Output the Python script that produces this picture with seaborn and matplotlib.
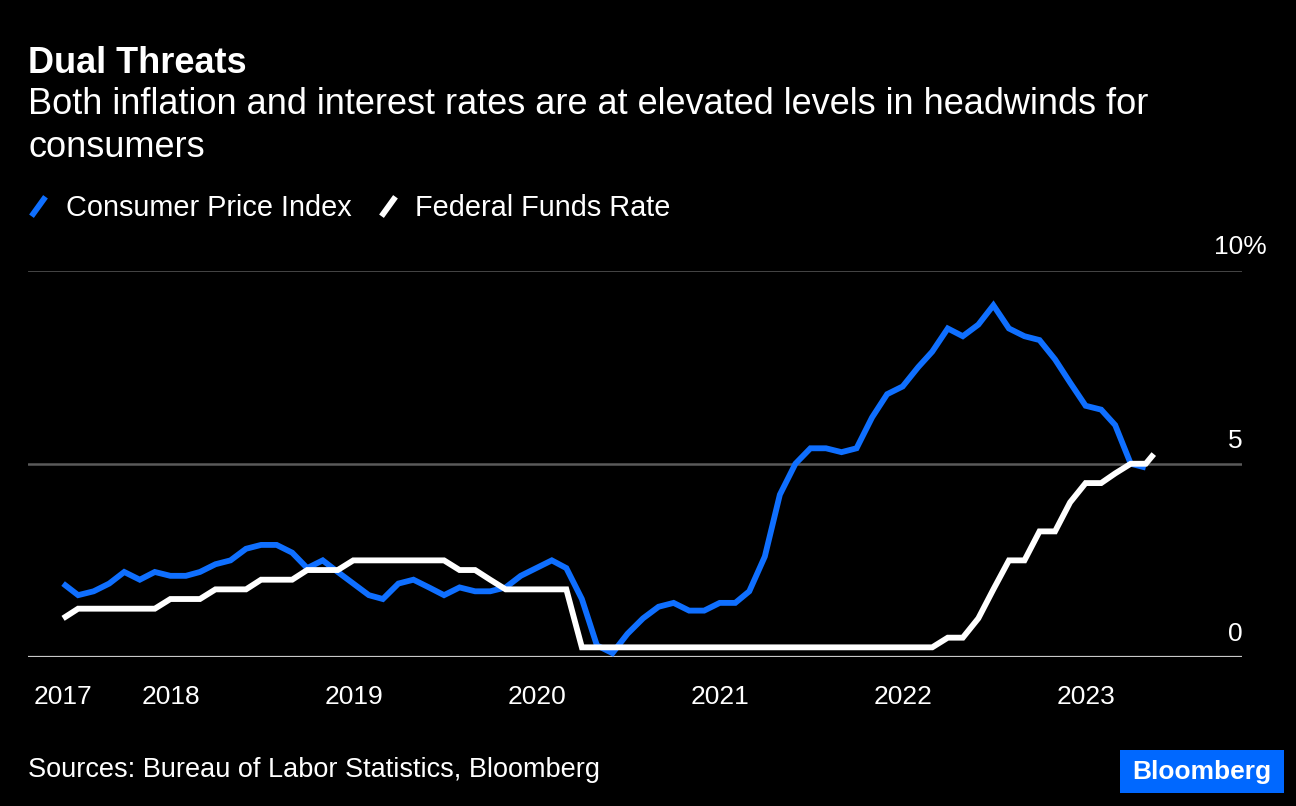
import numpy as np
import pandas as pd
import matplotlib
matplotlib.use("Agg")
import matplotlib.pyplot as plt
import matplotlib.transforms as mtransforms
from matplotlib.lines import Line2D
from matplotlib.path import Path
from matplotlib.patches import Rectangle
import seaborn as sns

# ---------------- data ----------------
series_names = ["Consumer Price Index", "Federal Funds Rate"]
series_colors = ["#0f6fff", "#ffffff"]

cpi_start = "2017-05-31"
cpi_values = [
    1.9, 1.6, 1.7, 1.9, 2.2, 2.0, 2.2, 2.1,                      # 2017 May-Dec
    2.1, 2.2, 2.4, 2.5, 2.8, 2.9, 2.9, 2.7, 2.3, 2.5, 2.2, 1.9,  # 2018
    1.6, 1.5, 1.9, 2.0, 1.8, 1.6, 1.8, 1.7, 1.7, 1.8, 2.1, 2.3,  # 2019
    2.5, 2.3, 1.5, 0.3, 0.1, 0.6, 1.0, 1.3, 1.4, 1.2, 1.2, 1.4,  # 2020
    1.4, 1.7, 2.6, 4.2, 5.0, 5.4, 5.4, 5.3, 5.4, 6.2, 6.8, 7.0,  # 2021
    7.5, 7.9, 8.5, 8.3, 8.6, 9.1, 8.5, 8.3, 8.2, 7.7, 7.1, 6.5,  # 2022
    6.4, 6.0, 5.0, 4.9,                                          # 2023 Jan-Apr
]

ffr_start = "2017-05-31"
ffr_values = [
    1.00, 1.25, 1.25, 1.25, 1.25, 1.25, 1.25, 1.50,                          # 2017 May-Dec
    1.50, 1.50, 1.75, 1.75, 1.75, 2.00, 2.00, 2.00, 2.25, 2.25, 2.25, 2.50,  # 2018
    2.50, 2.50, 2.50, 2.50, 2.50, 2.50, 2.25, 2.25, 2.00, 1.75, 1.75, 1.75,  # 2019
    1.75, 1.75, 0.25, 0.25, 0.25, 0.25, 0.25, 0.25, 0.25, 0.25, 0.25, 0.25,  # 2020
    0.25, 0.25, 0.25, 0.25, 0.25, 0.25, 0.25, 0.25, 0.25, 0.25, 0.25, 0.25,  # 2021
    0.25, 0.25, 0.50, 0.50, 1.00, 1.75, 2.50, 2.50, 3.25, 3.25, 4.00, 4.50,  # 2022
    4.50, 4.75, 5.00, 5.00,                                                  # 2023 Jan-Apr
]
ffr_last_date = "2023-05-16"
ffr_last_value = 5.25

x_tick_dates = ["2017-05-31", "2018-01-01", "2019-01-01", "2020-01-01",
                "2021-01-01", "2022-01-01", "2023-01-01"]
x_tick_labels = ["2017", "2018", "2019", "2020", "2021", "2022", "2023"]
y_ticks = [0, 5, 10]
y_tick_labels = ["0", "5", "10%"]

title = "Dual Threats"
subtitle_lines = ["Both inflation and interest rates are at elevated levels in headwinds for",
                  "consumers"]
source = "Sources: Bureau of Labor Statistics, Bloomberg"

# ---------------- frame ----------------
cpi_dates = pd.date_range(cpi_start, periods=len(cpi_values), freq="ME")
ffr_dates = list(pd.date_range(ffr_start, periods=len(ffr_values), freq="ME")) + [pd.Timestamp(ffr_last_date)]
df = pd.concat([
    pd.DataFrame({"date": cpi_dates, "value": cpi_values, "series": series_names[0]}),
    pd.DataFrame({"date": ffr_dates, "value": ffr_values + [ffr_last_value], "series": series_names[1]}),
], ignore_index=True)

# ---------------- style ----------------
sns.set_theme(style="dark", rc={
    "figure.facecolor": "black",
    "axes.facecolor": "black",
    "savefig.facecolor": "black",
    "text.color": "white",
    "axes.labelcolor": "white",
    "xtick.color": "white",
    "ytick.color": "white",
})
plt.rcParams["font.family"] = ["Liberation Sans", "DejaVu Sans"]

W, H = 1296, 806
fig = plt.figure(figsize=(W / 100, H / 100), dpi=100)
ax = fig.add_axes([28 / W, 1 - 657 / H, (1242 - 28) / W, (657 - 270.5) / H])

palette = dict(zip(series_names, series_colors))
sns.lineplot(data=df, x="date", y="value", hue="series", palette=palette,
             linewidth=4.2, legend=False, ax=ax, zorder=3)
for ln in ax.lines:
    ln.set_clip_on(False)
    ln.set_solid_joinstyle("miter")
    ln.set_solid_capstyle("butt")

ax.set_xlim(pd.Timestamp("2017-03-22"), pd.Timestamp("2023-11-08"))
ax.set_ylim(0, 10)
for s in ax.spines.values():
    s.set_visible(False)

# gridlines
for yv in y_ticks:
    if yv == 0:
        ax.axhline(yv, color="#c8c8c8", lw=1.6, zorder=2)
    else:
        ax.axhline(yv, color="#5a5a5a", lw=1.8, zorder=1)
ax.grid(False)

# x ticks
ax.set_xticks(pd.to_datetime(x_tick_dates))
ax.set_xticklabels(x_tick_labels, fontsize=19, color="white")
ax.tick_params(axis="x", length=8, width=1.5, color="#c8c8c8", pad=12, direction="out")
ax.set_xlabel("")
ax.set_ylabel("")
ax.set_yticks([])

# y labels (right side, above gridlines)
for yv, lab in zip(y_ticks, y_tick_labels):
    xoff = 25 if lab.endswith("%") else 1
    tr = mtransforms.offset_copy(ax.get_yaxis_transform(), fig=fig, x=xoff, y=11, units="dots")
    ax.text(1.0, yv, lab, transform=tr, ha="right", va="bottom", fontsize=19, color="white")

# ---------------- texts ----------------
fig.text(28 / W, 1 - 73 / H, title, fontsize=26, fontweight="bold", color="white", va="baseline", ha="left")
fig.text(28 / W, 1 - 114 / H, subtitle_lines[0], fontsize=26, color="white", va="baseline", ha="left")
fig.text(28 / W, 1 - 157 / H, subtitle_lines[1], fontsize=26, color="white", va="baseline", ha="left")
fig.text(28 / W, 1 - 777 / H, source, fontsize=19.5, color="white", va="baseline", ha="left")

# legend
slash = Path([(-0.36, -0.5), (0.36, 0.5)], [Path.MOVETO, Path.LINETO])
handles = [Line2D([], [], color=c, marker=slash, linestyle="None", markersize=14,
                  markeredgewidth=4.2, markeredgecolor=c) for c in series_colors]
fig.legend(handles, series_names, loc="center left", bbox_to_anchor=(24 / W, 1 - 208 / H),
           ncol=2, frameon=False, fontsize=20.8, labelcolor="white",
           handlelength=1.0, handletextpad=0.45, columnspacing=0.75, borderpad=0, borderaxespad=0)

# Bloomberg badge
fig.patches.append(Rectangle((1120 / W, 1 - 793 / H), (1284 - 1120) / W, (793 - 750) / H,
                             transform=fig.transFigure, facecolor="#0068ff", edgecolor="none"))
fig.text((1120 + 1284) / 2 / W, 1 - 771.5 / H, "Bloomberg", fontsize=19, fontweight="bold",
         color="white", ha="center", va="center")

fig.savefig("out.png", dpi=100, facecolor="black")
